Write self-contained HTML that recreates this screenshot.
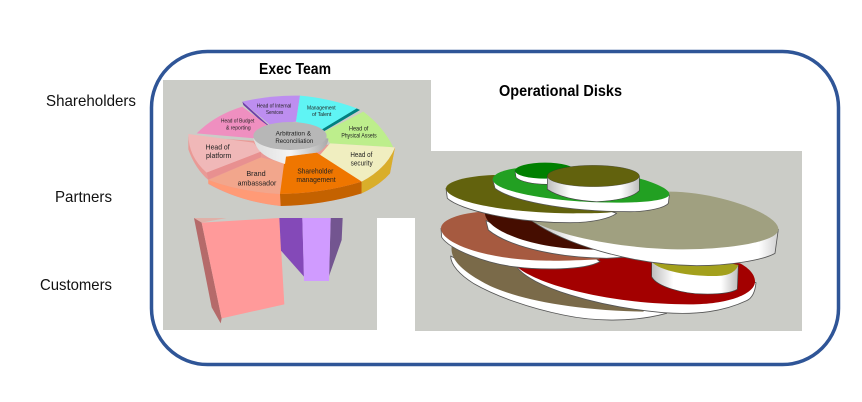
<!DOCTYPE html>
<html>
<head>
<meta charset="utf-8">
<style>
html,body{margin:0;padding:0;background:#fff;width:862px;height:402px;overflow:hidden}
svg{display:block}
text{font-family:"Liberation Sans",sans-serif}
</style>
</head>
<body>
<svg width="862" height="402" viewBox="0 0 862 402" xmlns="http://www.w3.org/2000/svg">
<defs>
<linearGradient id="cyl" x1="0" x2="1" y1="0" y2="0">
<stop offset="0" stop-color="#bdbdbd"/><stop offset=".25" stop-color="#fff"/><stop offset=".8" stop-color="#fff"/><stop offset="1" stop-color="#bdbdbd"/>
</linearGradient>
<linearGradient id="kh" x1="0" x2="1" y1="0" y2="0">
<stop offset="0" stop-color="#b5b5b5"/><stop offset=".18" stop-color="#fff"/><stop offset=".92" stop-color="#fff"/><stop offset="1" stop-color="#d0d0d0"/>
</linearGradient>
<linearGradient id="hub" x1="0" x2="1" y1="0" y2="0">
<stop offset="0" stop-color="#ddd"/><stop offset=".5" stop-color="#f4f4f4"/><stop offset="1" stop-color="#a9a9a9"/>
</linearGradient>
<filter id="b" x="-5%" y="-5%" width="110%" height="110%"><feGaussianBlur stdDeviation="1"/></filter>
</defs>

<polygon points="163,80 431,80 431,151 802,151 802,331 415,331 415,218 377,218 377,330 163,330" fill="#cbccc7"/>

<g transform="translate(160,60) scale(.33333)" filter="url(#b)">
  <path d="M85,230 L85,268 Q105,325 145,360 L145,372 Q240,425 362,438 Q490,435 605,400 Q660,375 690,340 L705,262 L400,250 Z" fill="#e99a96"/>
  <path d="M145,360 Q240,395 360,402 L362,438 Q240,425 145,370 Z" fill="#ff9a76"/>
  <path d="M360,402 Q490,400 605,365 L605,400 Q490,435 362,438 Z" fill="#c46200"/>
  <path d="M605,365 Q680,325 705,262 L690,340 Q660,375 605,400 Z" fill="#d9ae2c"/>
  <polygon points="247,125 330,200 322,200 250,135" fill="#6c3da8"/>
  <polygon points="590,145 600,150 485,218 478,212" fill="#008080"/>
  <path d="M247,125 Q330,105 420,107 L408,185 L330,195 Z" fill="#bd8ef0"/>
  <path d="M420,107 Q510,115 590,145 L483,210 L408,185 Z" fill="#5ff4f4"/>
  <path d="M610,155 Q670,200 700,262 L510,250 L488,218 Z" fill="#bdee8c"/>
  <path d="M510,250 L705,262 Q680,325 605,365 L480,285 Z" fill="#f0eec0"/>
  <path d="M110,220 Q165,165 247,140 L325,198 L285,235 Z" fill="#ef8fc0"/>
  <path d="M85,222 L280,248 L303,275 L140,338 Q85,290 85,222 Z" fill="#f0b8b8"/>
  <polygon points="140,338 303,275 303,292 145,358" fill="#e89090"/>
  <path d="M145,360 L303,292 L375,310 L360,402 Q240,395 145,360 Z" fill="#f2a68c"/>
  <path d="M375,290 L470,278 L605,365 Q490,400 360,402 Z" fill="#ef7600"/>
  <path d="M280,235 C290,270 305,290 375,312 L378,290 L470,278 C490,270 505,255 505,235 Z" fill="url(#hub)"/>
  <ellipse cx="390" cy="228" rx="110" ry="42" fill="#b7b7b7"/>
  <g text-anchor="middle" fill="#222">
    <text x="342" y="142" font-size="16" textLength="104" lengthAdjust="spacingAndGlyphs">Head of Internal</text>
    <text x="344" y="162" font-size="16" textLength="52" lengthAdjust="spacingAndGlyphs">Services</text>
    <text x="484" y="148" font-size="16" textLength="86" lengthAdjust="spacingAndGlyphs">Management</text>
    <text x="485" y="168" font-size="16" textLength="58" lengthAdjust="spacingAndGlyphs">of Talent</text>
    <text x="596" y="211" font-size="18" textLength="58" lengthAdjust="spacingAndGlyphs">Head of</text>
    <text x="597" y="232" font-size="18" textLength="106" lengthAdjust="spacingAndGlyphs">Physical Assets</text>
    <text x="233" y="188" font-size="16" textLength="100" lengthAdjust="spacingAndGlyphs">Head of Budget</text>
    <text x="235" y="208" font-size="16" textLength="74" lengthAdjust="spacingAndGlyphs">&amp; reporting</text>
    <text x="604" y="291" font-size="21" textLength="66" lengthAdjust="spacingAndGlyphs">Head of</text>
    <text x="605" y="316" font-size="21" textLength="66" lengthAdjust="spacingAndGlyphs">security</text>
    <text x="173" y="268" font-size="23" textLength="72" lengthAdjust="spacingAndGlyphs">Head of</text>
    <text x="176" y="294" font-size="23" textLength="76" lengthAdjust="spacingAndGlyphs">platform</text>
    <text x="288" y="348" font-size="23" textLength="58" lengthAdjust="spacingAndGlyphs">Brand</text>
    <text x="291" y="377" font-size="23" textLength="116" lengthAdjust="spacingAndGlyphs">ambassador</text>
    <text x="466" y="340" font-size="23" textLength="108" lengthAdjust="spacingAndGlyphs">Shareholder</text>
    <text x="468" y="366" font-size="23" textLength="118" lengthAdjust="spacingAndGlyphs">management</text>
    <text x="400" y="226" font-size="20" textLength="106" lengthAdjust="spacingAndGlyphs">Arbitration &amp;</text>
    <text x="403" y="249" font-size="20" textLength="114" lengthAdjust="spacingAndGlyphs">Reconciliation</text>
  </g>
</g>

<g transform="translate(160,210) scale(.33333)" filter="url(#b)">
  <polygon points="102,24 200,24 125,38" fill="#e0b0a8"/>
  <polygon points="102,24 125,38 185,325 182,340 155,292" fill="#b56a6a"/>
  <polygon points="125,38 358,24 373,283 185,325" fill="#ff9a9a"/>
  <polygon points="358,24 427,24 432,200 363,122" fill="#8449b8"/>
  <polygon points="512,24 548,24 545,90 507,198" fill="#735590"/>
  <polygon points="427,24 512,24 507,213 432,213" fill="#d09bff"/>
</g>

<g transform="translate(430,150) scale(.33333)" filter="url(#b)" stroke-linejoin="round">
  <!-- brown -->
  <path d="M62,318 C62,345 90,375 130,400 C200,440 300,475 400,495 C480,512 600,520 710,490 L690,470 L300,440 Z" fill="#fff" stroke="#555" stroke-width="2.500"/>
  <path d="M65,290 C60,330 100,365 165,400 C240,440 400,480 640,485 L650,470 L500,350 L200,290 Z" fill="#7a6a4a"/>
  <!-- red -->
  <path d="M260,350 C300,410 500,470 700,488 C800,495 880,485 950,452 C965,445 975,430 978,398 L600,330 Z" fill="#fff" stroke="#555" stroke-width="2.500"/>
  <path d="M260,350 C330,410 560,465 790,463 C900,462 975,430 975,395 C975,370 950,350 930,340 L600,300 Z" fill="#a30000"/>
  <!-- yellow cylinder -->
  <path d="M665,335 L665,380 C680,410 760,432 820,432 C870,433 905,428 922,418 L925,345 Z" fill="url(#cyl)" stroke="#444" stroke-width="2"/>
  <path d="M665,335 C690,365 790,380 860,378 C890,377 915,370 925,345 L800,320 Z" fill="#a3a01c"/>
  <!-- salmon -->
  <path d="M33,235 L35,262 C60,300 170,340 250,350 C330,360 460,362 510,335 L490,320 L300,320 Z" fill="#fff" stroke="#555" stroke-width="2.500"/>
  <path d="M165,185 C90,188 33,210 33,235 C33,280 170,330 350,332 C400,333 450,330 510,328 L450,270 L300,200 Z" fill="#a65a40"/>
  <!-- dark brown -->
  <path d="M168,212 L175,240 C230,285 360,322 530,325 L580,322 L520,295 L300,270 Z" fill="#fff" stroke="#555" stroke-width="2.500"/>
  <path d="M165,190 C165,235 290,295 470,298 L520,300 L450,220 L300,200 Z" fill="#450f00"/>
  <!-- khaki -->
  <path d="M305,212 C400,280 600,345 800,347 C900,347 1000,330 1035,310 L1045,238 L900,280 L600,270 Z" fill="url(#kh)" stroke="#555" stroke-width="2.500"/>
  <path d="M300,210 C400,265 600,298 760,298 C900,298 1045,275 1045,238 C1045,190 860,125 720,125 C600,125 400,170 300,210 Z" fill="#a0a080"/>
  <!-- olive -->
  <path d="M48,115 L52,145 C90,180 250,218 420,218 C490,218 540,205 560,190 L500,170 L200,150 Z" fill="#fff" stroke="#555" stroke-width="2.500"/>
  <path d="M190,75 C110,78 48,95 48,115 C48,150 200,188 430,190 C480,190 530,190 555,185 L600,150 L400,90 Z" fill="#62620a"/>
  <!-- green -->
  <path d="M188,88 L195,115 C240,150 400,185 600,185 C660,185 705,172 715,160 L718,135 L600,130 L300,120 Z" fill="#fff" stroke="#555" stroke-width="2.500"/>
  <path d="M255,55 C210,62 188,75 188,88 C190,125 370,158 560,158 C650,158 718,150 718,132 C718,110 620,75 500,60 Z" fill="#22a022"/>
  <!-- small green cylinder -->
  <path d="M255,62 L258,82 C270,95 310,103 350,103 L430,90 L430,60 Z" fill="#fff" stroke="#444" stroke-width="2"/>
  <ellipse cx="345" cy="62" rx="90" ry="24" fill="#008000"/>
  <!-- olive cylinder -->
  <path d="M352,78 L352,118 Q400,150 500,155 Q600,150 628,122 L628,78 Z" fill="url(#cyl)" stroke="#444" stroke-width="2"/>
  <ellipse cx="490" cy="78" rx="138" ry="32" fill="#62620a" stroke="#333" stroke-width="1"/>
</g>

<rect x="151.500" y="51.500" width="687" height="313" rx="56" ry="56" fill="none" stroke="#2f5597" stroke-width="3.500"/>

<g fill="#111" font-size="16">
  <text x="46" y="106" textLength="90" lengthAdjust="spacingAndGlyphs">Shareholders</text>
  <text x="55" y="202" textLength="57" lengthAdjust="spacingAndGlyphs">Partners</text>
  <text x="40" y="290" textLength="72" lengthAdjust="spacingAndGlyphs">Customers</text>
</g>
<g fill="#000" font-size="16" font-weight="bold">
  <text x="259" y="74" textLength="72" lengthAdjust="spacingAndGlyphs">Exec Team</text>
  <text x="499" y="96" textLength="123" lengthAdjust="spacingAndGlyphs">Operational Disks</text>
</g>
</svg>
</body>
</html>
